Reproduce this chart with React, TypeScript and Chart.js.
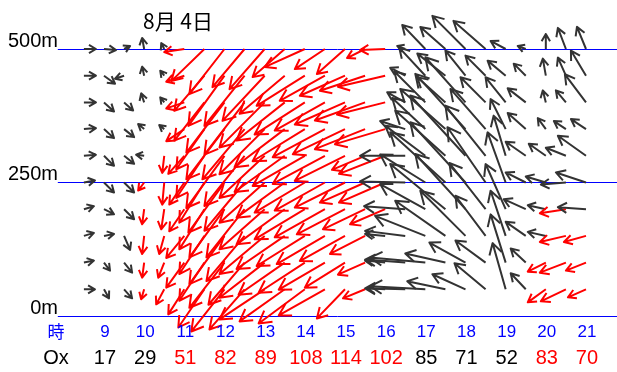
import React, { useEffect, useRef } from 'react';
import { Chart, registerables } from 'chart.js';
Chart.register(...registerables);

// Observation times (hours) and heights (m)
const TIMES = [8.5, 9, 9.5, 10, 10.5, 11, 11.5, 12, 12.5, 13, 13.5, 14, 14.5, 15, 15.5, 16, 16.5, 17, 17.5, 18, 18.5, 19, 19.5, 20, 20.5, 21];
const HEIGHTS = [500, 450, 400, 350, 300, 250, 200, 150, 100, 50];
const HEIGHT_TICKS = [0, 250, 500];
const HOURS = [9, 10, 11, 12, 13, 14, 15, 16, 17, 18, 19, 20, 21];
const OX = [17, 29, 51, 82, 89, 108, 114, 102, 85, 71, 52, 83, 70];
const OX_HIGH = [0, 0, 1, 1, 1, 1, 1, 1, 0, 0, 0, 1, 1];
const TITLE = '8月 4日';

// Wind components (m/s), east (u) and north (v), one array per height
const U_500 = [1.2, 1.2, 0.6, -0.2, -0.3, -2.0, -3.3, -3.5, -3.2, -3.5, -3.2, -4.0, -3.0, -2.8, -1.8, -2.5, -0.8, -2.3, -2.5, -3.3, -3.2, -1.5, -0.8, 0, -0.8, -0.9];
const V_500 = [0, -0.1, 0.3, 1.1, 0.6, -0.3, -3.2, -4.5, -3.8, -4.0, -2.8, -1.8, -2.0, -2.5, -0.9, -0.1, 0.3, 2.4, 2.2, 3.3, 2.8, 0.8, 0.3, 1.5, 2.1, 2.2];
const U_450 = [1.2, 1.1, -0.9, -0.2, -0.4, -1.8, -3.0, -3.6, -4.0, -4.2, -4.5, -4.8, -4.5, -4.5, -4.5, -4.7, -1.5, -2.6, -2.8, -2.0, -2.0, -1.8, -1.2, -0.3, -0.8, -1.5];
const V_450 = [0, -0.8, -0.3, 0.9, 0.5, -0.6, -3.5, -5.0, -5.0, -4.5, -3.8, -3.0, -2.5, -2.0, -1.5, -1.1, 0.8, 2.8, 2.2, 2.5, 2.0, 1.5, 1.2, 1.7, 1.8, 2.5];
const U_400 = [1.2, 1.0, 0.9, -0.3, -0.4, -1.8, -3.0, -3.8, -4.0, -4.5, -4.8, -5.0, -5.0, -5.0, -5.0, -4.8, -1.8, -3.1, -2.8, -4.0, -2.5, -2.0, -1.8, -0.3, -1.0, -2.1];
const V_400 = [0, -0.9, -0.8, 0.9, 0.5, -0.6, -3.8, -5.0, -5.2, -4.5, -3.8, -3.2, -2.8, -2.2, -1.8, -1.2, 1.0, 3.1, 2.5, 4.5, 2.5, 2.5, 1.4, 1.2, 1.2, 2.8];
const U_350 = [1.2, 1.0, 1.0, -0.6, -0.5, -1.8, -2.8, -3.8, -4.2, -4.5, -5.0, -5.2, -5.2, -5.2, -5.0, -5.0, -2.5, -3.3, -4.5, -5.0, -3.5, -1.5, -1.8, -0.8, -1.2, -1.5];
const V_350 = [0.1, -0.9, -0.8, 0.5, 0.4, -1.2, -4.0, -5.0, -5.0, -4.5, -3.8, -3.2, -2.8, -2.5, -2.0, -1.5, 0.8, 3.1, 4.0, 5.5, 4.0, 3.0, 1.6, 1.1, 0.8, 1.0];
const U_300 = [1.2, 1.0, 1.0, -0.8, -0.2, -1.6, -2.8, -3.8, -4.0, -4.5, -5.0, -5.2, -5.2, -5.0, -3.3, -4.6, -4.5, -4.0, -5.0, -5.5, -4.0, -1.2, -2.0, -1.7, -2.0, -2.8];
const V_300 = [0.1, -1.0, -0.8, 0.1, -1.7, -1.8, -4.2, -5.2, -5.0, -4.2, -3.6, -3.0, -2.8, -2.5, -1.4, -1.8, 0, 3.0, 4.5, 6.0, 5.0, 4.0, 1.4, 1.2, 0.8, 2.0];
const U_250 = [1.1, 1.0, 1.0, -0.6, -0.2, -1.5, -2.5, -3.6, -4.0, -4.5, -4.8, -5.0, -5.0, -5.0, -4.5, -4.6, -4.5, -4.5, -5.5, -5.5, -3.8, -1.8, -2.0, -2.0, -2.5, -3.0];
const V_250 = [0.2, -1.0, -1.0, -0.8, -2.2, -2.2, -4.0, -5.0, -4.8, -4.0, -3.5, -3.0, -2.8, -2.5, -2.0, -2.0, 0.1, 2.8, 5.0, 6.0, 5.5, 5.0, 1.0, 0.6, -0.2, 1.0];
const U_200 = [1.0, 1.0, 1.0, -0.2, -0.3, -1.5, -2.5, -3.5, -3.8, -4.5, -4.8, -5.0, -5.0, -4.8, -4.2, -3.5, -4.1, -4.5, -5.5, -5.0, -3.6, -2.0, -2.2, -1.8, -2.6, -2.8];
const V_200 = [0.3, -0.5, -1.0, -1.5, -2.0, -2.2, -4.0, -4.8, -4.8, -4.0, -3.5, -3.0, -2.8, -2.5, -2.0, -1.5, 0.3, 2.5, 4.5, 5.5, 4.6, 4.5, 1.0, 0.4, -0.4, 0.2];
const U_150 = [1.0, 1.0, 0.6, -0.2, -0.5, -1.8, -2.5, -3.5, -3.8, -4.5, -4.8, -4.8, -4.8, -4.5, -3.5, -2.0, -4.0, -5.0, -5.0, -4.5, -3.0, -1.5, -2.0, -1.8, -2.6, -2.2];
const V_150 = [0.3, 0.2, -1.4, -1.8, -1.8, -2.2, -3.8, -4.8, -4.5, -3.8, -3.3, -3.0, -2.8, -2.5, -1.8, 0.2, 0.5, 2.0, 3.5, 4.5, 4.0, 4.5, 1.4, 0.4, -0.6, -0.6];
const U_100 = [1.0, 0.6, 0.8, -0.2, -0.6, -1.8, -2.5, -3.5, -3.6, -4.5, -4.6, -4.6, -4.6, -4.0, -2.7, -2.0, -4.0, -5.5, -4.0, -3.6, -3.0, -1.5, -1.5, -1.8, -2.6, -2.0];
const V_100 = [0.2, -0.8, -1.0, -1.5, -1.5, -2.5, -3.8, -4.5, -4.2, -3.5, -3.2, -3.0, -2.7, -2.5, -1.2, 0.2, 0.3, 0.5, 0.9, 2.0, 2.2, 4.8, 1.4, -0.9, -1.0, -0.8];
const U_50 = [1.1, 0.5, 0.8, -0.3, -0.8, -1.6, -2.6, -3.3, -3.5, -4.5, -4.5, -4.6, -4.6, -2.8, -2.2, -1.8, -4.0, -5.5, -3.8, -3.3, -3.1, -1.3, -1.5, -1.8, -2.5, -1.8];
const V_50 = [0, -0.9, -0.9, -1.0, -1.5, -2.5, -3.8, -4.2, -4.0, -3.0, -3.2, -3.4, -2.6, -2.9, -0.9, 0.1, 0.1, 0.3, 0.8, 1.5, 2.6, 4.6, 1.6, -1.3, -1.2, -0.8];

// 1 = sea-breeze (red) vector, 0 = other (dark)
const RED_500 = [0, 0, 0, 0, 0, 1, 1, 1, 1, 1, 1, 1, 1, 1, 1, 1, 0, 0, 0, 0, 0, 0, 0, 0, 0, 0];
const RED_450 = [0, 0, 0, 0, 0, 1, 1, 1, 1, 1, 1, 1, 1, 1, 1, 1, 0, 0, 0, 0, 0, 0, 0, 0, 0, 0];
const RED_400 = [0, 0, 0, 0, 0, 1, 1, 1, 1, 1, 1, 1, 1, 1, 1, 1, 0, 0, 0, 0, 0, 0, 0, 0, 0, 0];
const RED_350 = [0, 0, 0, 0, 0, 1, 1, 1, 1, 1, 1, 1, 1, 1, 1, 1, 0, 0, 0, 0, 0, 0, 0, 0, 0, 0];
const RED_300 = [0, 0, 0, 0, 1, 1, 1, 1, 1, 1, 1, 1, 1, 1, 1, 1, 0, 0, 0, 0, 0, 0, 0, 0, 0, 0];
const RED_250 = [0, 0, 0, 1, 1, 1, 1, 1, 1, 1, 1, 1, 1, 1, 1, 1, 0, 0, 0, 0, 0, 0, 0, 0, 0, 0];
const RED_200 = [0, 0, 0, 1, 1, 1, 1, 1, 1, 1, 1, 1, 1, 1, 1, 1, 0, 0, 0, 0, 0, 0, 0, 0, 1, 0];
const RED_150 = [0, 0, 0, 1, 1, 1, 1, 1, 1, 1, 1, 1, 1, 1, 1, 0, 0, 0, 0, 0, 0, 0, 0, 0, 1, 1];
const RED_100 = [0, 0, 0, 1, 1, 1, 1, 1, 1, 1, 1, 1, 1, 1, 1, 0, 0, 0, 0, 0, 0, 0, 0, 1, 1, 1];
const RED_50 = [0, 0, 0, 1, 1, 1, 1, 1, 1, 1, 1, 1, 1, 1, 1, 0, 0, 0, 0, 0, 0, 0, 0, 1, 1, 1];

const U_ROWS = [U_500, U_450, U_400, U_350, U_300, U_250, U_200, U_150, U_100, U_50];
const V_ROWS = [V_500, V_450, V_400, V_350, V_300, V_250, V_200, V_150, V_100, V_50];
const RED_ROWS = [RED_500, RED_450, RED_400, RED_350, RED_300, RED_250, RED_200, RED_150, RED_100, RED_50];

const HOURS_PER_MS = 0.25; // vector scale: 1 m/s drawn as a quarter hour of x-axis
const RED = '#ff0000';
const DARK = '#333333';
const BLUE = '#0000ff';
const FONT = "'Liberation Sans', Arial, 'Noto Sans CJK JP', sans-serif";
const CJK = "'Noto Sans CJK JP', 'Liberation Sans', sans-serif";

type Pt = { x: number; y: number; u: number; v: number; red: number };

function buildPoints(): Pt[] {
  const pts: Pt[] = [];
  TIMES.forEach((t, i) => {
    HEIGHTS.forEach((h, r) => {
      pts.push({ x: t, y: h, u: U_ROWS[r][i], v: V_ROWS[r][i], red: RED_ROWS[r][i] });
    });
  });
  return pts;
}

const windPlugin = {
  id: 'windProfile',
  beforeDatasetsDraw(chart: any) {
    const { ctx, scales } = chart;
    const y = scales.y;
    const x = scales.x;
    ctx.save();
    ctx.strokeStyle = BLUE;
    ctx.lineWidth = 1;
    const left = x.getPixelForValue(7.85);
    HEIGHT_TICKS.forEach((h) => {
      const py = Math.round(y.getPixelForValue(h)) + 0.5;
      ctx.beginPath();
      ctx.moveTo(left, py);
      ctx.lineTo(chart.width, py);
      ctx.stroke();
    });
    ctx.restore();
  },
  afterDatasetsDraw(chart: any) {
    const { ctx, scales } = chart;
    const x = scales.x;
    const k = x.getPixelForValue(TIMES[0] + HOURS_PER_MS) - x.getPixelForValue(TIMES[0]);
    const meta = chart.getDatasetMeta(0);
    const data: Pt[] = chart.data.datasets[0].data;
    ctx.save();
    ctx.lineWidth = 2;
    ctx.lineJoin = 'round';
    ctx.lineCap = 'butt';
    meta.data.forEach((el: any, i: number) => {
      const d = data[i];
      const x0 = el.x;
      const y0 = el.y;
      const dx = d.u * k;
      const dy = -d.v * k;
      const len = Math.hypot(dx, dy);
      if (len < 0.5) return;
      const x1 = x0 + dx;
      const y1 = y0 + dy;
      const ang = Math.atan2(dy, dx);
      const hl = Math.min(15, 6.5 + 0.13 * len);
      const a = (30 * Math.PI) / 180;
      ctx.strokeStyle = d.red ? RED : DARK;
      ctx.beginPath();
      ctx.moveTo(x0, y0);
      ctx.lineTo(x1, y1);
      ctx.moveTo(x1 - hl * Math.cos(ang - a), y1 - hl * Math.sin(ang - a));
      ctx.lineTo(x1, y1);
      ctx.lineTo(x1 - hl * Math.cos(ang + a), y1 - hl * Math.sin(ang + a));
      ctx.stroke();
    });
    ctx.restore();
  },
  afterDraw(chart: any) {
    const { ctx, scales } = chart;
    const x = scales.x;
    const y = scales.y;
    ctx.save();
    // title
    ctx.fillStyle = '#000';
    ctx.textBaseline = 'middle';
    ctx.textAlign = 'left';
    ctx.font = `21px ${CJK}`;
    ctx.fillText(TITLE, 143, 21);
    // height labels
    ctx.textAlign = 'right';
    ctx.textBaseline = 'alphabetic';
    ctx.font = `20px ${FONT}`;
    HEIGHT_TICKS.forEach((h) => {
      ctx.fillText(`${h}m`, 58, y.getPixelForValue(h) - 2);
    });
    // hour row
    const hourY = 332;
    const oxY = 358;
    ctx.textAlign = 'center';
    ctx.textBaseline = 'middle';
    ctx.fillStyle = BLUE;
    ctx.font = `17px ${CJK}`;
    ctx.fillText('時', 56, hourY);
    ctx.font = `17px ${FONT}`;
    HOURS.forEach((h) => {
      ctx.fillText(String(h), x.getPixelForValue(h) + 1, hourY);
    });
    ctx.font = `20px ${FONT}`;
    ctx.fillStyle = '#000';
    ctx.fillText('Ox', 56, oxY);
    HOURS.forEach((h, i) => {
      ctx.fillStyle = OX_HIGH[i] ? RED : '#000';
      ctx.fillText(String(OX[i]), x.getPixelForValue(h) + 1, oxY);
    });
    ctx.restore();
  },
};

export default function App() {
  const ref = useRef<HTMLCanvasElement | null>(null);
  useEffect(() => {
    document.body.style.margin = '0';
    const canvas = ref.current;
    if (!canvas) return;
    const chart = new Chart(canvas, {
      type: 'scatter',
      data: {
        datasets: [
          {
            data: buildPoints() as any,
            pointRadius: 0,
            pointHoverRadius: 0,
            showLine: false,
          },
        ],
      },
      options: {
        animation: false,
        responsive: false,
        events: [],
        layout: { padding: 0 },
        plugins: { legend: { display: false }, tooltip: { enabled: false }, title: { display: false } },
        scales: {
          x: { type: 'linear', display: false, min: 6.411, max: 21.772 },
          y: { type: 'linear', display: false, min: -104.87, max: 591.76 },
        },
      },
      plugins: [windPlugin],
    });
    return () => chart.destroy();
  }, []);
  return (
    <div style={{ width: 617, height: 372, background: '#fff' }}>
      <canvas ref={ref} width={617} height={372} style={{ display: 'block' }} />
    </div>
  );
}
